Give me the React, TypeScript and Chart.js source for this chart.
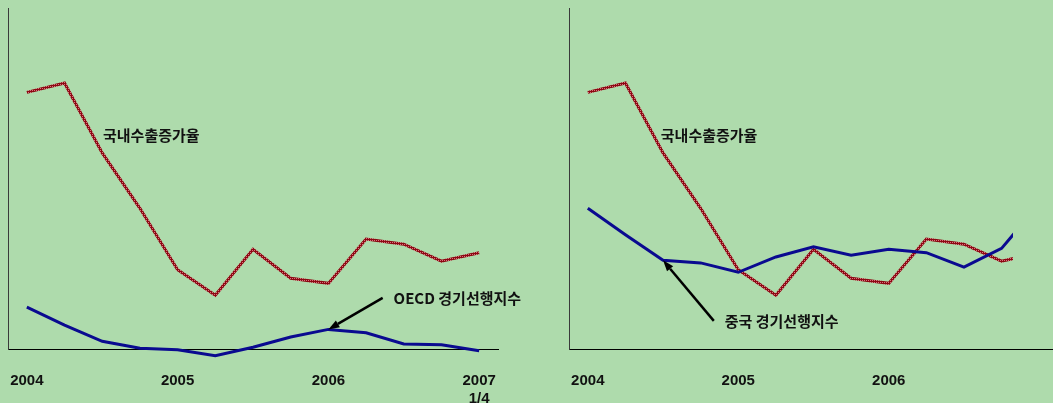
import React, { useEffect, useRef } from "react";
import { Chart, registerables } from "chart.js";

Chart.register(...registerables);

const quarters = [
  "2004 1/4", "2004 2/4", "2004 3/4", "2004 4/4",
  "2005 1/4", "2005 2/4", "2005 3/4", "2005 4/4",
  "2006 1/4", "2006 2/4", "2006 3/4", "2006 4/4",
  "2007 1/4",
];
const leftTickLabels: (string | string[])[] = ["2004", "", "", "", "2005", "", "", "", "2006", "", "", "", ["2007", "1/4"]];
const rightTickLabels: (string | string[])[] = ["2004", "", "", "", "2005", "", "", "", "2006", "", "", "", ""];

const exportGrowth = [30.1, 31.2, 23.0, 16.5, 9.3, 6.3, 11.7, 8.3, 7.7, 12.9, 12.3, 10.3, 11.3];
const oecdLeading = [4.9, 2.8, 0.9, 0.1, -0.1, -0.8, 0.2, 1.4, 2.3, 1.9, 0.6, 0.5, -0.2];
const chinaLeading = [16.5, 13.4, 10.4, 10.1, 9.0, 10.8, 12.0, 11.0, 11.7, 11.3, 9.6, 11.8, 17.0];

const exportLabel = "국내수출증가율";
const oecdLabel = "OECD 경기선행지수";
const chinaLabel = "중국 경기선행지수";

const BG = "rgb(174,219,172)";

const annotPlugin = {
  id: "annot",
  afterDatasetsDraw(chart: any, _args: any, opts: any) {
    const { ctx } = chart;
    const x = chart.scales.x;
    const y = chart.scales.y;
    ctx.save();
    ctx.font = 'bold 15px "Noto Sans CJK KR", sans-serif';
    ctx.fillStyle = "#111";
    ctx.textBaseline = "middle";
    ctx.textAlign = "left";
    for (const t of opts.texts || []) {
      ctx.fillText(t.text, x.getPixelForValue(t.x), y.getPixelForValue(t.y));
    }
    for (const a of opts.arrows || []) {
      const x1 = x.getPixelForValue(a.x1);
      const y1 = y.getPixelForValue(a.y1);
      const x2 = x.getPixelForValue(a.x2);
      const y2 = y.getPixelForValue(a.y2);
      const ang = Math.atan2(y2 - y1, x2 - x1);
      const len = 11;
      const hw = 4;
      const bx = x2 - len * Math.cos(ang);
      const by = y2 - len * Math.sin(ang);
      ctx.strokeStyle = "#000";
      ctx.lineWidth = 2.5;
      ctx.beginPath();
      ctx.moveTo(x1, y1);
      ctx.lineTo(bx, by);
      ctx.stroke();
      ctx.fillStyle = "#000";
      ctx.beginPath();
      ctx.moveTo(x2, y2);
      ctx.lineTo(bx + hw * Math.sin(ang), by - hw * Math.cos(ang));
      ctx.lineTo(bx - hw * Math.sin(ang), by + hw * Math.cos(ang));
      ctx.closePath();
      ctx.fill();
      ctx.fillStyle = "#111";
    }
    ctx.restore();
  },
};

function makePattern(): CanvasPattern | string {
  const pc = document.createElement("canvas");
  pc.width = 2;
  pc.height = 2;
  const c = pc.getContext("2d");
  if (!c) return "#8f0a14";
  c.fillStyle = "#8c0812";
  c.fillRect(0, 0, 2, 2);
  c.fillStyle = "#d8707c";
  c.fillRect(0, 0, 1, 1);
  const p = c.createPattern(pc, "repeat");
  return p || "#8f0a14";
}

function buildConfig(opts: {
  blue: number[];
  tickLabels: (string | string[])[];
  padding: any;
  clip: any;
  texts: any[];
  arrows: any[];
}) {
  const pattern = makePattern();
  return {
    type: "line" as const,
    data: {
      labels: quarters,
      datasets: [
        {
          label: "blue",
          data: opts.blue,
          borderColor: "#0a0a90",
          borderWidth: 3,
          pointRadius: 0,
          tension: 0,
          fill: false,
          clip: opts.clip,
        },
        {
          label: exportLabel,
          data: exportGrowth,
          borderColor: pattern,
          borderWidth: 3,
          pointRadius: 0,
          tension: 0,
          fill: false,
          clip: opts.clip,
        },
      ],
    },
    options: {
      animation: false,
      responsive: false,
      layout: { padding: opts.padding },
      plugins: {
        legend: { display: false },
        tooltip: { enabled: false },
        annot: { texts: opts.texts, arrows: opts.arrows },
      },
      scales: {
        x: {
          type: "category",
          offset: true,
          grid: { display: false, drawTicks: false },
          border: { display: true, color: "#000", width: 1 },
          ticks: {
            autoSkip: false,
            maxRotation: 0,
            minRotation: 0,
            padding: 23,
            color: "#111",
            font: { family: '"Liberation Sans", Arial, sans-serif', size: 15, weight: "bold", lineHeight: 1.2 },
            callback: (_v: any, i: number) => opts.tickLabels[i],
          },
          afterFit: (s: any) => {
            s.height = 54;
            s.paddingLeft = 0;
            s.paddingRight = 0;
          },
        },
        y: {
          type: "linear",
          min: 0,
          max: 40,
          grid: { display: false, drawTicks: false },
          border: { display: true, color: "#3a3a3a", width: 1 },
          ticks: { display: false },
          afterFit: (s: any) => {
            s.width = 0;
            s.paddingTop = 0;
            s.paddingBottom = 0;
          },
        },
      },
    },
    plugins: [annotPlugin],
  };
}

export default function App() {
  const leftRef = useRef<HTMLCanvasElement>(null);
  const rightRef = useRef<HTMLCanvasElement>(null);

  useEffect(() => {
    const charts: Chart[] = [];
    if (leftRef.current) {
      charts.push(
        new Chart(
          leftRef.current,
          buildConfig({
            blue: oecdLeading,
            tickLabels: leftTickLabels,
            padding: { left: 8, top: 8, right: 42, bottom: 0 },
            clip: { left: 10, top: 10, right: 10, bottom: 10 },
            texts: [
              { text: exportLabel, x: 2.02, y: 25.1 },
              { text: oecdLabel, x: 9.73, y: 6.0 },
            ],
            arrows: [{ x1: 9.44, y1: 6.0, x2: 8, y2: oecdLeading[8] }],
          }) as any
        )
      );
    }
    if (rightRef.current) {
      charts.push(
        new Chart(
          rightRef.current,
          buildConfig({
            blue: chinaLeading,
            tickLabels: rightTickLabels,
            padding: { left: 29, top: 8, right: 2, bottom: 0 },
            clip: { left: 10, top: 10, right: -45, bottom: 10 },
            texts: [
              { text: exportLabel, x: 1.94, y: 25.1 },
              { text: chinaLabel, x: 3.64, y: 3.3 },
            ],
            arrows: [{ x1: 3.35, y1: 3.3, x2: 2, y2: chinaLeading[2] }],
          }) as any
        )
      );
    }
    return () => {
      charts.forEach((c) => c.destroy());
    };
  }, []);

  return (
    <div
      style={{
        position: "fixed",
        left: 0,
        top: 0,
        width: 1053,
        height: 403,
        overflow: "hidden",
        background: BG,
      }}
    >
      <canvas
        ref={leftRef}
        width={540}
        height={403}
        style={{ position: "absolute", left: 0, top: 0, width: 540, height: 403 }}
      />
      <canvas
        ref={rightRef}
        width={520}
        height={403}
        style={{ position: "absolute", left: 540, top: 0, width: 520, height: 403 }}
      />
    </div>
  );
}
